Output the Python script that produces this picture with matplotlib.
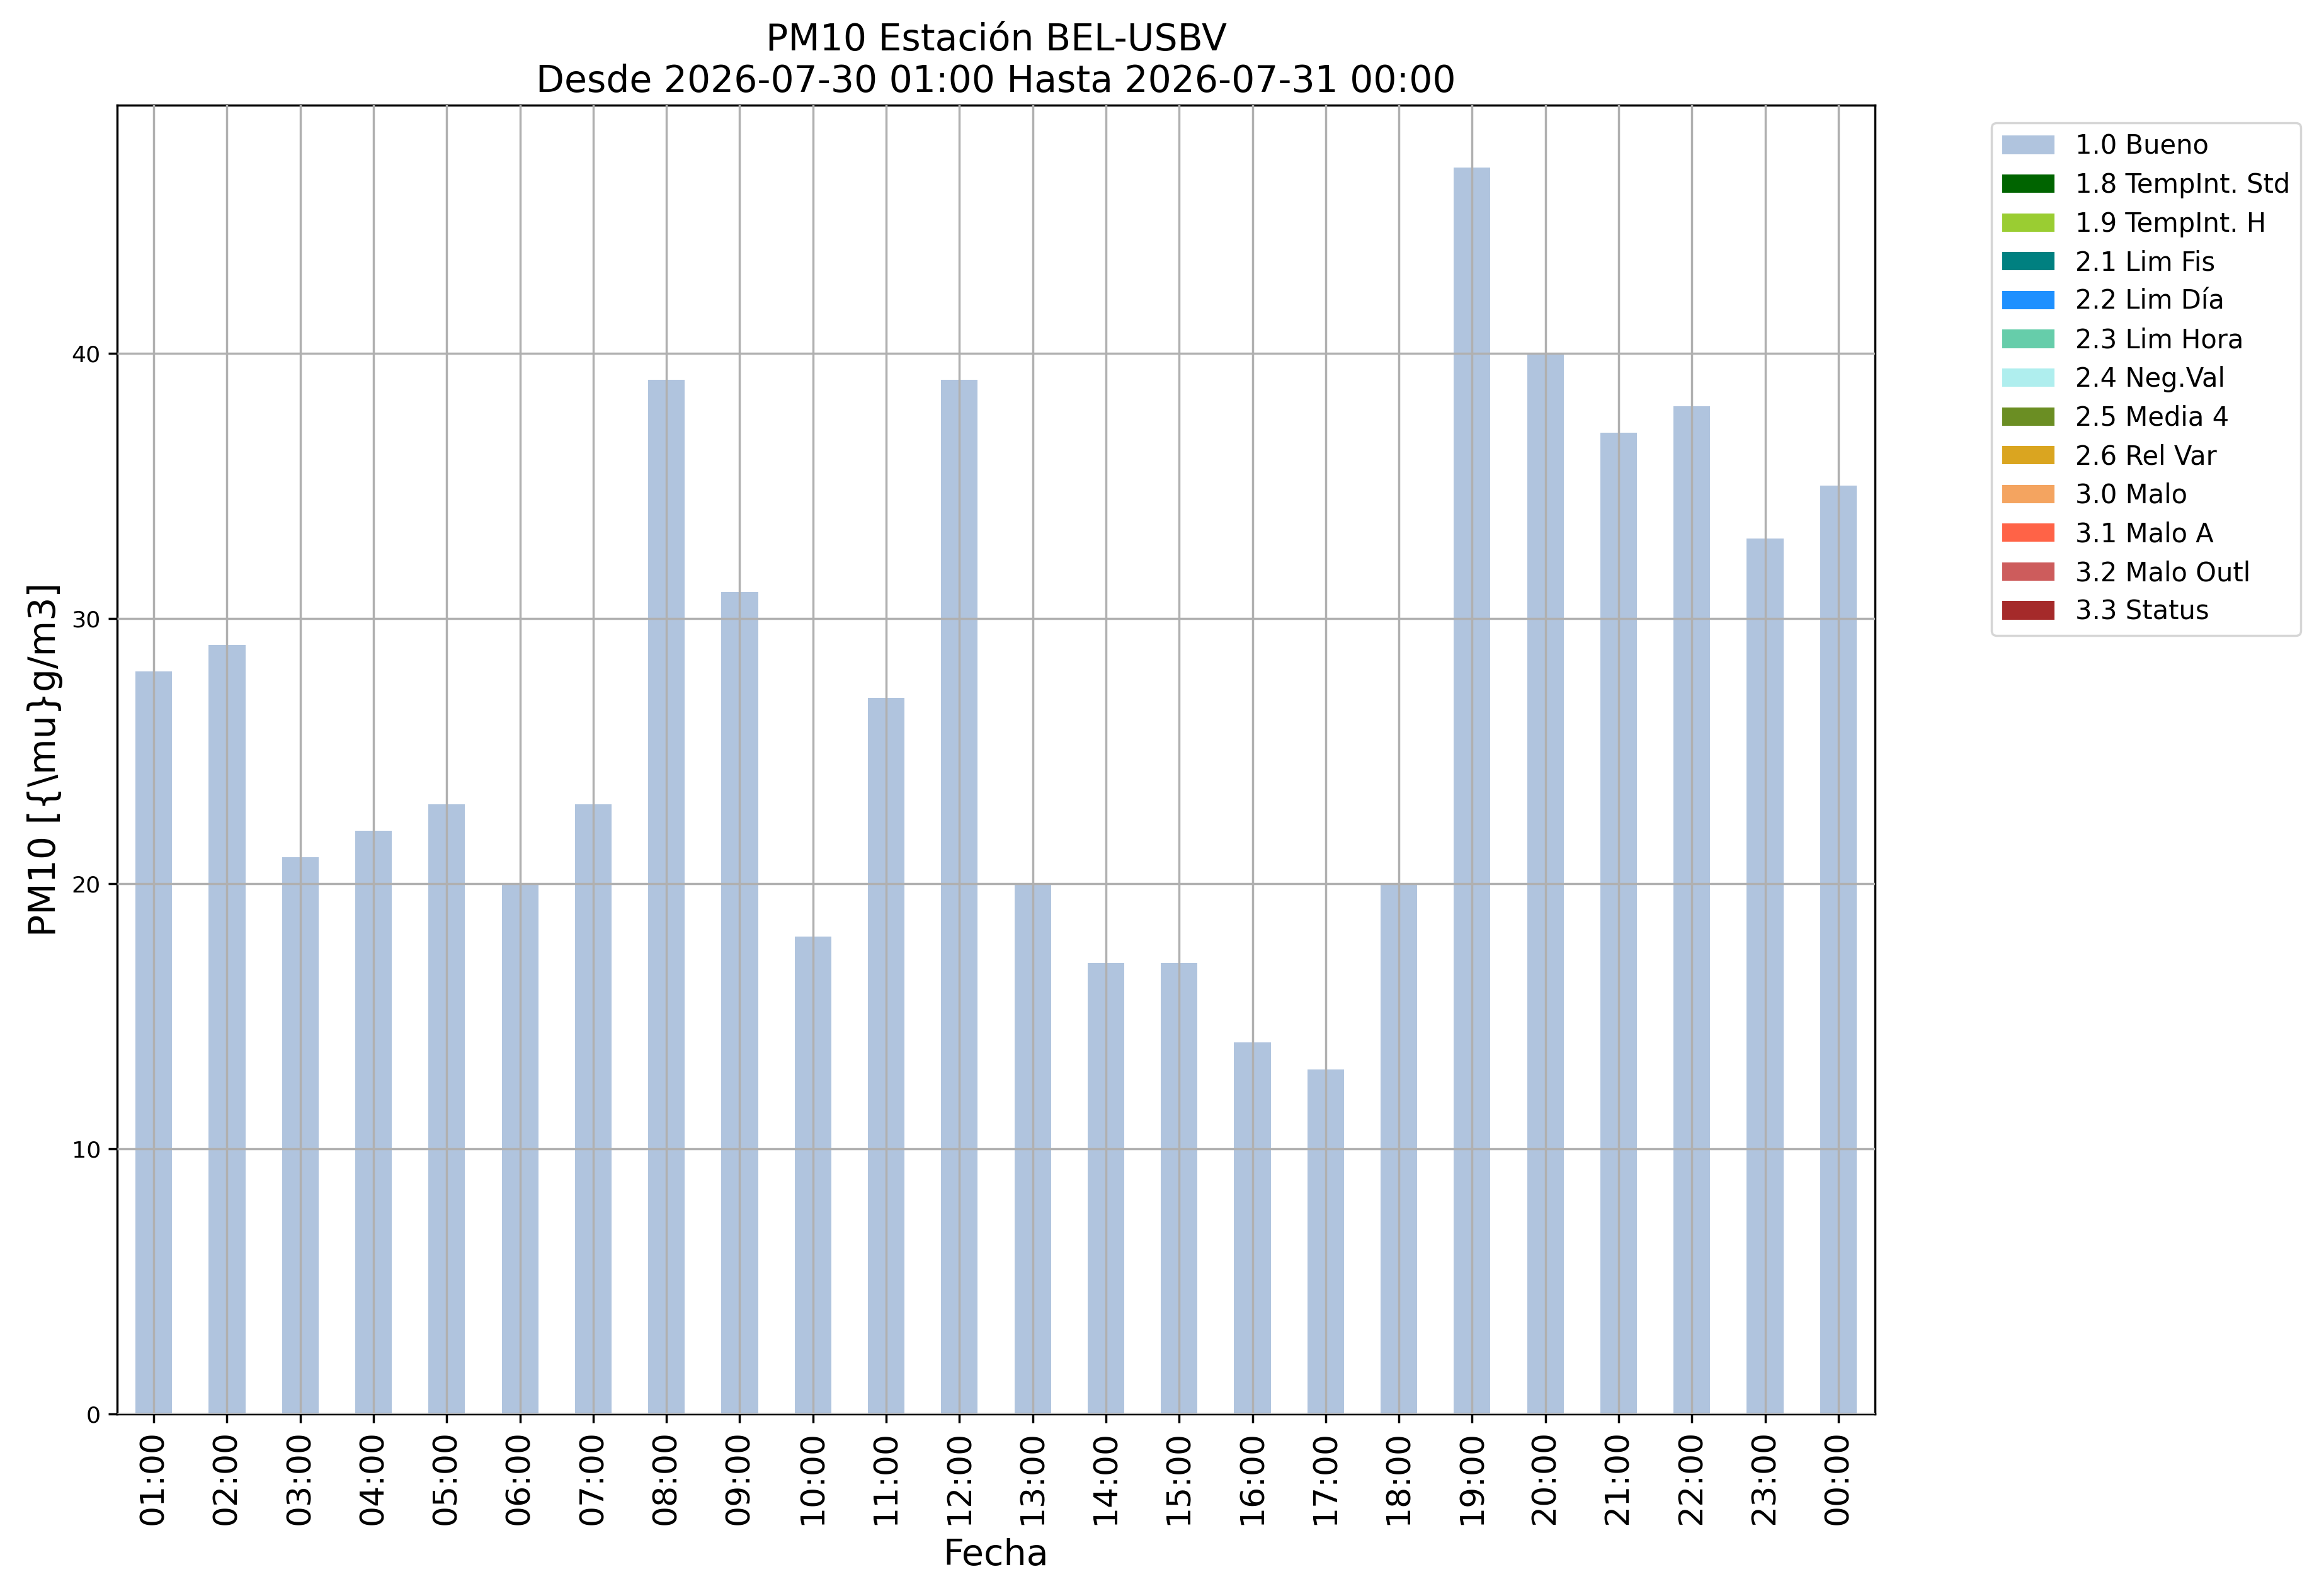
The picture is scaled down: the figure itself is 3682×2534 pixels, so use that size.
import matplotlib
matplotlib.use("Agg")
import matplotlib.pyplot as plt
import numpy as np

hours = ["01:00", "02:00", "03:00", "04:00", "05:00", "06:00", "07:00", "08:00",
         "09:00", "10:00", "11:00", "12:00", "13:00", "14:00", "15:00", "16:00",
         "17:00", "18:00", "19:00", "20:00", "21:00", "22:00", "23:00", "00:00"]
bueno = [28, 29, 21, 22, 23, 20, 23, 39, 31, 18, 27, 39, 20, 17, 17, 14,
         13, 20, 47, 40, 37, 38, 33, 35]
flag_labels = ["1.0 Bueno", "1.8 TempInt. Std", "1.9 TempInt. H", "2.1 Lim Fis",
               "2.2 Lim Día", "2.3 Lim Hora", "2.4 Neg.Val", "2.5 Media 4",
               "2.6 Rel Var", "3.0 Malo", "3.1 Malo A", "3.2 Malo Outl", "3.3 Status"]
flag_colors = ["lightsteelblue", "darkgreen", "yellowgreen", "teal", "dodgerblue",
               "mediumaquamarine", "paleturquoise", "olivedrab", "goldenrod",
               "sandybrown", "tomato", "indianred", "brown"]
other_values = [0] * len(hours)

DPI = 250
fig = plt.figure(figsize=(3682 / DPI, 2534 / DPI), dpi=DPI)
ax = fig.add_axes([186 / 3682, 1 - 2245 / 2534, (2977 - 186) / 3682, (2245 - 167) / 2534])

x = np.arange(len(hours))
bottom = np.zeros(len(hours))
series = [bueno] + [other_values] * (len(flag_labels) - 1)
for lab, col, vals in zip(flag_labels, flag_colors, series):
    v = np.array(vals, dtype=float)
    ax.bar(x, v, width=0.5, bottom=bottom, color=col, label=lab, linewidth=0)
    bottom += v

ax.set_xlim(-0.5, len(hours) - 0.5)
ax.set_ylim(0, max(bueno) * 1.05)
ax.set_xticks(x)
ax.set_xticklabels(hours, rotation=90, fontsize=15)
ax.set_yticks([0, 10, 20, 30, 40])
ax.tick_params(axis="y", labelsize=10.5, length=4, width=1, direction="out")
ax.tick_params(axis="x", length=4, width=1, direction="out")
ax.set_axisbelow(False)
ax.grid(True, color="#b0b0b0", linewidth=1.0)
for s in ax.spines.values():
    s.set_linewidth(1.0)

ax.set_xlabel("Fecha", fontsize=16.5, labelpad=6)
ax.set_ylabel("PM10 [{\\mu}g/m3]", fontsize=16.8)
ax.set_title("PM10 Estación BEL-USBV\nDesde 2026-07-30 01:00 Hasta 2026-07-31 00:00",
             fontsize=16.8)

ax.legend(loc="upper left", bbox_to_anchor=(3162 / 3682, 1 - 195 / 2534),
          bbox_transform=fig.transFigure, borderaxespad=0, fontsize=12,
          labelspacing=0.47)

fig.savefig("out.png", dpi=DPI)
